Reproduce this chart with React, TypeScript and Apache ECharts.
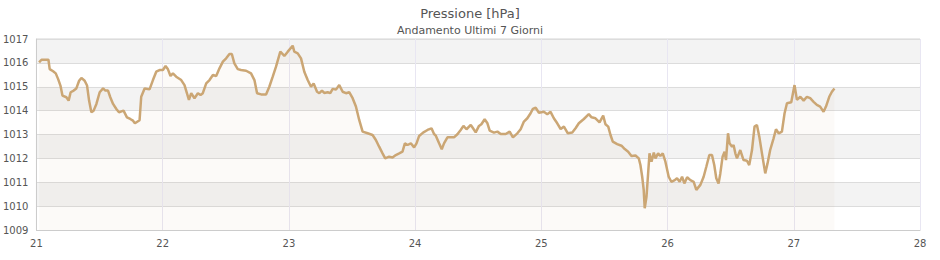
import React, { useEffect, useRef } from "react";
import * as echarts from "echarts";

const titleText = "Pressione [hPa]";
const subtitleText = "Andamento Ultimi 7 Giorni";
const dayMin = 21;
const dayMax = 28;
const hPaMin = 1009;
const hPaMax = 1017;

// [day of month (decimal), pressure hPa]
const readings: [number, number][] = [
  [21.021, 1016.02], [21.04, 1016.13], [21.095, 1016.13], [21.105, 1015.74], [21.132, 1015.65],
  [21.153, 1015.56], [21.172, 1015.32], [21.19, 1015.05], [21.206, 1014.63], [21.237, 1014.56],
  [21.255, 1014.42], [21.271, 1014.77], [21.295, 1014.84], [21.316, 1014.93], [21.338, 1015.25],
  [21.356, 1015.37], [21.382, 1015.25], [21.401, 1015.05], [21.417, 1014.42], [21.435, 1013.93],
  [21.453, 1014.0], [21.475, 1014.28], [21.501, 1014.77], [21.528, 1014.93], [21.546, 1014.84],
  [21.567, 1014.84], [21.585, 1014.56], [21.607, 1014.28], [21.633, 1014.07], [21.654, 1013.93],
  [21.69, 1014.0], [21.717, 1013.72], [21.743, 1013.65], [21.765, 1013.58], [21.78, 1013.47],
  [21.817, 1013.6], [21.83, 1014.58], [21.857, 1014.93], [21.896, 1014.89], [21.923, 1015.28],
  [21.949, 1015.63], [21.975, 1015.7], [22.002, 1015.7], [22.023, 1015.87], [22.042, 1015.73],
  [22.062, 1015.45], [22.081, 1015.56], [22.107, 1015.42], [22.147, 1015.28], [22.173, 1015.07],
  [22.192, 1014.73], [22.208, 1014.45], [22.226, 1014.73], [22.252, 1014.52], [22.279, 1014.73],
  [22.3, 1014.65], [22.318, 1014.73], [22.345, 1015.14], [22.371, 1015.28], [22.398, 1015.49],
  [22.424, 1015.45], [22.45, 1015.77], [22.477, 1016.05], [22.503, 1016.19], [22.529, 1016.37],
  [22.548, 1016.37], [22.568, 1015.98], [22.595, 1015.74], [22.621, 1015.7], [22.661, 1015.67],
  [22.7, 1015.56], [22.727, 1015.28], [22.748, 1014.73], [22.78, 1014.68], [22.819, 1014.68],
  [22.845, 1015.0], [22.872, 1015.42], [22.898, 1015.84], [22.932, 1016.47], [22.964, 1016.29],
  [22.991, 1016.47], [23.03, 1016.72], [23.043, 1016.47], [23.07, 1016.4], [23.096, 1016.19],
  [23.122, 1015.63], [23.149, 1015.28], [23.175, 1015.0], [23.196, 1015.14], [23.223, 1014.79],
  [23.241, 1014.73], [23.262, 1014.84], [23.28, 1014.74], [23.307, 1014.77], [23.328, 1014.73],
  [23.347, 1014.91], [23.373, 1014.88], [23.399, 1015.07], [23.426, 1014.79], [23.452, 1014.73],
  [23.478, 1014.77], [23.505, 1014.52], [23.531, 1014.17], [23.557, 1013.61], [23.584, 1013.12],
  [23.624, 1013.05], [23.663, 1012.98], [23.689, 1012.77], [23.715, 1012.49], [23.742, 1012.21],
  [23.763, 1012.0], [23.794, 1012.07], [23.821, 1012.04], [23.847, 1012.14], [23.874, 1012.21],
  [23.9, 1012.28], [23.919, 1012.63], [23.94, 1012.56], [23.966, 1012.63], [23.992, 1012.46],
  [24.011, 1012.63], [24.032, 1012.94], [24.063, 1013.08], [24.098, 1013.19], [24.13, 1013.26],
  [24.15, 1013.02], [24.164, 1012.95], [24.19, 1012.63], [24.211, 1012.38], [24.229, 1012.63],
  [24.256, 1012.88], [24.308, 1012.88], [24.335, 1013.01], [24.361, 1013.19], [24.383, 1013.36],
  [24.407, 1013.22], [24.441, 1013.4], [24.459, 1013.26], [24.48, 1013.09], [24.506, 1013.36],
  [24.525, 1013.43], [24.551, 1013.64], [24.573, 1013.47], [24.591, 1013.16], [24.625, 1013.08],
  [24.652, 1013.12], [24.678, 1013.02], [24.718, 1013.02], [24.749, 1013.12], [24.775, 1012.88],
  [24.81, 1013.05], [24.836, 1013.22], [24.862, 1013.54], [24.889, 1013.68], [24.915, 1013.89],
  [24.933, 1014.07], [24.955, 1014.12], [24.981, 1013.91], [25.02, 1013.95], [25.047, 1013.85],
  [25.073, 1013.95], [25.099, 1013.68], [25.126, 1013.47], [25.153, 1013.23], [25.179, 1013.33],
  [25.21, 1013.05], [25.245, 1013.08], [25.271, 1013.26], [25.297, 1013.47], [25.337, 1013.65],
  [25.376, 1013.85], [25.398, 1013.72], [25.429, 1013.68], [25.461, 1013.51], [25.49, 1013.79],
  [25.508, 1013.43], [25.53, 1013.33], [25.548, 1012.98], [25.566, 1012.7], [25.601, 1012.6],
  [25.635, 1012.53], [25.661, 1012.39], [25.688, 1012.28], [25.714, 1012.1], [25.746, 1012.12],
  [25.772, 1012.0], [25.785, 1011.72], [25.799, 1011.23], [25.811, 1010.68], [25.819, 1009.91],
  [25.833, 1010.39], [25.846, 1011.37], [25.857, 1012.21], [25.873, 1011.86], [25.891, 1012.24],
  [25.904, 1012.0], [25.925, 1012.21], [25.943, 1012.1], [25.962, 1012.21], [25.983, 1011.86],
  [26.009, 1011.23], [26.03, 1011.02], [26.057, 1011.09], [26.075, 1011.17], [26.096, 1011.02],
  [26.115, 1011.23], [26.133, 1010.95], [26.155, 1011.21], [26.181, 1011.09], [26.207, 1011.02],
  [26.228, 1010.68], [26.26, 1010.89], [26.286, 1011.23], [26.307, 1011.65], [26.331, 1012.14],
  [26.352, 1012.14], [26.37, 1011.72], [26.386, 1011.17], [26.404, 1010.95], [26.418, 1011.37],
  [26.436, 1012.07], [26.452, 1012.28], [26.463, 1011.93], [26.479, 1013.05], [26.491, 1012.63],
  [26.511, 1012.49], [26.523, 1012.56], [26.537, 1012.21], [26.55, 1012.0], [26.576, 1012.35],
  [26.602, 1011.93], [26.629, 1011.9], [26.647, 1011.72], [26.669, 1012.35], [26.689, 1013.33],
  [26.708, 1013.4], [26.727, 1012.91], [26.748, 1012.21], [26.774, 1011.37], [26.792, 1011.79],
  [26.813, 1012.35], [26.84, 1012.84], [26.859, 1013.22], [26.88, 1013.05], [26.906, 1013.12],
  [26.927, 1013.89], [26.946, 1014.31], [26.98, 1014.35], [27.006, 1015.07], [27.025, 1014.45],
  [27.052, 1014.58], [27.078, 1014.42], [27.104, 1014.58], [27.13, 1014.52], [27.157, 1014.37],
  [27.183, 1014.24], [27.209, 1014.17], [27.236, 1013.95], [27.255, 1014.17], [27.281, 1014.58],
  [27.302, 1014.79], [27.322, 1014.93],
];

const FONT = "DejaVu Sans";

export default function App() {
  const ref = useRef<HTMLDivElement>(null);
  useEffect(() => {
    document.body.style.margin = "0";
    const chart = echarts.init(ref.current!, null, { renderer: "svg" });
    chart.setOption({
      animation: false,
      title: {
        text: titleText,
        subtext: subtitleText,
        left: "center",
        top: 2,
        itemGap: 5,
        textStyle: { fontSize: 13, fontWeight: "normal", color: "#555", fontFamily: FONT },
        subtextStyle: { fontSize: 11, color: "#555", fontFamily: FONT },
      },
      grid: {
        left: 35,
        right: 20,
        top: 39,
        bottom: 30,
        show: true,
        borderColor: "#d4d4d4",
        borderWidth: 1,
        backgroundColor: "transparent",
      },
      xAxis: {
        type: "value",
        min: dayMin,
        max: dayMax,
        interval: 1,
        axisLine: { lineStyle: { color: "#cccccc" } },
        axisTick: { show: false },
        axisLabel: {
          color: "#555",
          fontSize: 10,
          margin: 8,
          fontFamily: FONT,
          formatter: (v: number) => String(v),
        },
        splitLine: { show: true, lineStyle: { color: "#e8e6f2" } },
      },
      yAxis: {
        type: "value",
        min: hPaMin,
        max: hPaMax,
        interval: 1,
        axisLine: { show: true, lineStyle: { color: "#cccccc" } },
        axisTick: { show: false },
        axisLabel: {
          color: "#555",
          fontSize: 10,
          margin: 8,
          fontFamily: FONT,
          formatter: (v: number) => String(v),
        },
        splitLine: { show: true, lineStyle: { color: "#dcdcdc" } },
        splitArea: { show: true, areaStyle: { color: ["#ffffff", "#f3f3f3"] } },
      },
      series: [
        {
          type: "line",
          data: readings,
          showSymbol: false,
          silent: true,
          lineStyle: { color: "#cba674", width: 2.5 },
          areaStyle: { color: "rgba(205,168,120,0.08)", origin: "start" },
        },
      ],
    });
    return () => chart.dispose();
  }, []);
  return <div ref={ref} style={{ width: 940, height: 260 }} />;
}
